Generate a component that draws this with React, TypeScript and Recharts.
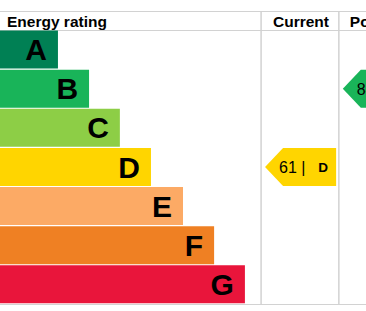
import React from 'react';
import { BarChart, Bar, XAxis, YAxis, LabelList, Cell } from 'recharts';

// EPC bands, top (best) to bottom (worst)
const bands = ['A', 'B', 'C', 'D', 'E', 'F', 'G'];
const bandColors = ['#008054', '#19b459', '#8dce46', '#ffd500', '#fcaa65', '#ef8023', '#e9153b'];
const barLengths = [19, 29.2, 39.3, 49.5, 60, 70.2, 80.3];

const currentScore = 61;
const currentBand = 'D';
const potentialScore = 84;
const potentialBand = 'B';

const W = 366;
const H = 311;
const X_MAX = 120;
const CUR_COL = [85.6, 111.1];
const POT_COL = [111.1, 136.6];
const FONT = 'Arial, "Liberation Sans", sans-serif';

const px = (v: number) => (v * W) / X_MAX;

const data = bands.map((band, i) => ({
  band,
  length: barLengths[i],
  current: band === currentBand ? [CUR_COL[0] + 1.3, CUR_COL[1] - 0.9] : null,
  potential: band === potentialBand ? [POT_COL[0] + 1.3, POT_COL[1] - 0.9] : null,
  label: band === currentBand ? currentScore : band === potentialBand ? potentialScore : null,
}));

function Arrow(props: any) {
  const { x, y, width, height, payload } = props;
  if (!width || width <= 0 || payload.label == null) return null;
  const tip = 18;
  const color = bandColors[bands.indexOf(payload.band)];
  const mid = y + height / 2;
  const pts = [
    [x, mid], [x + tip, y], [x + width, y], [x + width, y + height], [x + tip, y + height],
  ].map((p) => p.join(',')).join(' ');
  return (
    <g>
      <polygon points={pts} fill={color} />
      <text x={x + 14} y={mid + 6} fontSize={16} fontFamily={FONT} fill="#000">
        {`${payload.label} |`}
      </text>
      <text x={x + width - 8} y={mid + 5} fontSize={13.5} fontWeight="bold" fontFamily={FONT} fill="#000" textAnchor="end">
        {payload.band}
      </text>
    </g>
  );
}

export default function App() {
  const grid = '#d2d2d2';
  const head = { fontSize: 15.5, fontWeight: 'bold', fontFamily: FONT, fill: '#000' } as const;
  return (
    <div style={{ position: 'absolute', left: 0, top: 0, width: W, height: H, background: '#fff' }}>
      <svg width={W} height={H} style={{ position: 'absolute', left: 0, top: 0 }}>
        <line x1={0} x2={W} y1={11.5} y2={11.5} stroke={grid} />
        <line x1={0} x2={W} y1={30.5} y2={30.5} stroke={grid} />
        <line x1={0} x2={W} y1={304.5} y2={304.5} stroke={grid} />
        <line x1={px(CUR_COL[0])} x2={px(CUR_COL[0])} y1={11} y2={305} stroke={grid} strokeWidth={1.5} />
        <line x1={px(CUR_COL[1])} x2={px(CUR_COL[1])} y1={11} y2={305} stroke={grid} strokeWidth={1.5} />
        <text x={7} y={26.5} {...head}>Energy rating</text>
        <text x={(px(CUR_COL[0]) + px(CUR_COL[1])) / 2 + 1} y={26.5} {...head} textAnchor="middle">Current</text>
        <text x={px(POT_COL[0]) + 11} y={26.5} {...head}>Potential</text>
      </svg>
      <div style={{ position: 'absolute', left: 0, top: 0 }}>
        <BarChart
          width={W}
          height={H}
          data={data}
          layout="vertical"
          margin={{ top: 30, right: 0, bottom: 7, left: 0 }}
          barCategoryGap={0.5}
        >
          <XAxis type="number" domain={[0, X_MAX]} allowDataOverflow hide />
          <YAxis yAxisId="rating" type="category" dataKey="band" hide />
          <YAxis yAxisId="cur" type="category" dataKey="band" hide />
          <YAxis yAxisId="pot" type="category" dataKey="band" hide />
          <Bar yAxisId="rating" dataKey="length" isAnimationActive={false}>
            {data.map((d, i) => (
              <Cell key={d.band} fill={bandColors[i]} />
            ))}
            <LabelList
              dataKey="band"
              position="insideRight"
              offset={11}
              fill="#000"
              fontSize={30}
              fontWeight="bold"
              fontFamily={FONT}
            />
          </Bar>
          <Bar yAxisId="cur" dataKey="current" isAnimationActive={false} shape={<Arrow />} />
          <Bar yAxisId="pot" dataKey="potential" isAnimationActive={false} shape={<Arrow />} />
        </BarChart>
      </div>
    </div>
  );
}
